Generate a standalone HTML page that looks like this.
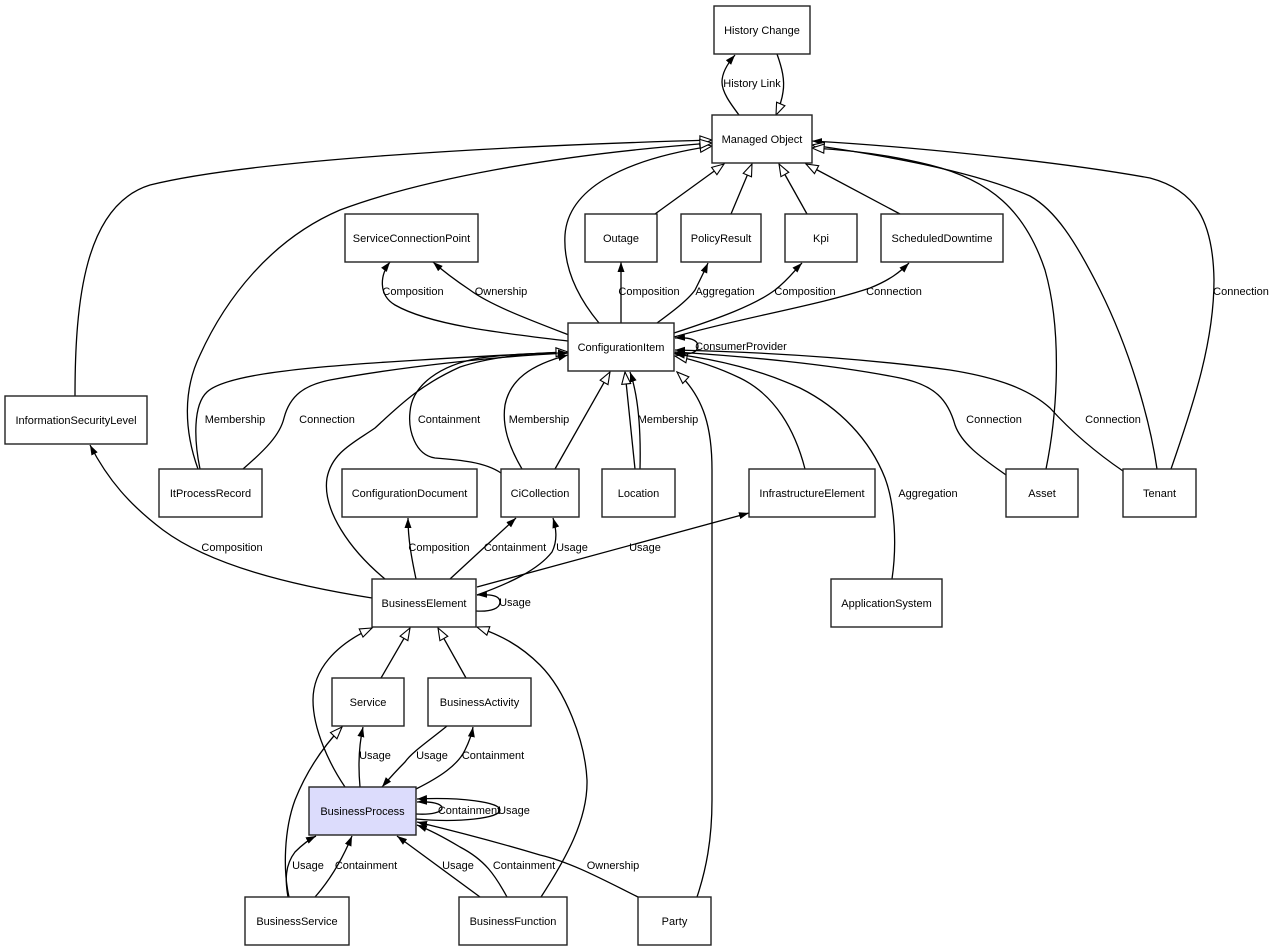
<!DOCTYPE html>
<html><head><meta charset="utf-8"><style>
html,body{margin:0;padding:0;background:#fff;}
svg{display:block;}
text{font-family:"Liberation Sans",Arial,sans-serif;font-size:11px;fill:#000;}
.n{fill:#fff;stroke:#222;stroke-width:1.4;}
.e{fill:none;stroke:#000;stroke-width:1.3;}
</style></head><body>
<svg width="1275" height="951" viewBox="0 0 1275 951" xmlns="http://www.w3.org/2000/svg">
<defs>
<marker id="a" viewBox="0 0 10 8" refX="10" refY="4" markerWidth="10" markerHeight="8" orient="auto" markerUnits="userSpaceOnUse"><path d="M0,0.5 L10,4 L0,7.5 z" fill="#000"/></marker>
<marker id="h" viewBox="-1 -1 14 12" refX="12" refY="5" markerWidth="14" markerHeight="12" orient="auto" markerUnits="userSpaceOnUse" overflow="visible"><path d="M0,0.5 L12,5 L0,9.5 z" fill="#fff" stroke="#000" stroke-width="1.1"/></marker>
</defs>
<rect width="1275" height="951" fill="#fff"/>

<!-- edges -->
<g class="edges">
<!-- History -->
<path class="e" marker-end="url(#a)" d="M739,115 C730,103 722,92 722,82 C722,72 728,63 735,55"/>
<path class="e" marker-end="url(#h)" d="M777,54 C782,68 785,80 783,92 C782,100 779,108 776,115"/>
<!-- gen to MO bottom -->
<path class="e" marker-end="url(#h)" d="M655,214 L724,164"/>
<path class="e" marker-end="url(#h)" d="M731,214 L752,164"/>
<path class="e" marker-end="url(#h)" d="M807,214 L779,164"/>
<path class="e" marker-end="url(#h)" d="M900,214 L806,164"/>
<!-- CI -> MO -->
<path class="e" marker-end="url(#h)" d="M599,323 C580,300 563,270 565,235 C568,190 620,160 712,146"/>
<!-- ISL -> MO -->
<path class="e" marker-end="url(#h)" d="M75,396 C75,300 85,205 150,185 C250,160 500,146 712,140"/>
<!-- IPR -> MO -->
<path class="e" marker-end="url(#h)" d="M198,469 C184,430 183,390 200,355 C225,300 270,240 340,210 C420,180 550,155 712,143"/>
<!-- Tenant Connection -> MO -->
<path class="e" marker-end="url(#a)" d="M1171,469 C1195,400 1214,340 1214,280 C1213,220 1195,190 1150,178 C1050,160 900,146 812,141"/>
<!-- Tenant gen -> MO -->
<path class="e" marker-end="url(#h)" d="M1157,469 C1150,420 1130,350 1100,290 C1075,240 1055,210 1030,196 C970,170 880,155 812,145"/>
<!-- Asset gen -> MO -->
<path class="e" marker-end="url(#h)" d="M1046,469 C1058,410 1062,330 1045,270 C1025,210 990,180 930,165 C890,155 850,150 812,148"/>

<!-- CI outgoing -->
<path class="e" marker-end="url(#a)" d="M568,341 C500,333 430,325 395,305 C378,295 380,275 390,262"/>
<path class="e" marker-end="url(#a)" d="M569,335 C530,320 490,305 470,290 C455,280 442,270 433,262"/>
<path class="e" marker-end="url(#a)" d="M621,323 L621,262"/>
<path class="e" marker-end="url(#a)" d="M657,323 C672,312 688,300 695,290 C700,280 704,272 708,263"/>
<path class="e" marker-end="url(#a)" d="M674,333 C720,318 755,305 775,290 C788,280 795,270 802,263"/>
<path class="e" marker-end="url(#a)" d="M674,337 C740,318 820,305 870,288 C890,280 900,272 909,263"/>
<path class="e" marker-end="url(#a)" d="M674,353 C690,356 698,352 698,346 C698,340 690,337 675,338"/>

<!-- CI incoming -->
<path class="e" marker-end="url(#a)" d="M200,469 C194,440 193,405 207,392 C225,375 300,367 420,360 C480,356 530,354 568,352"/>
<path class="e" marker-end="url(#a)" d="M243,469 C265,450 280,435 284,418 C290,395 305,385 330,380 C400,367 500,356 568,353"/>
<path class="e" marker-end="url(#h)" d="M385,579 C350,550 322,510 327,478 C332,452 355,442 375,428 C400,405 420,385 460,367 C490,357 530,353 568,352"/>
<path class="e" marker-end="url(#a)" d="M501,473 C485,462 460,460 435,458 C415,455 408,430 410,412 C412,385 440,365 480,358 C510,354 540,353 568,353"/>
<path class="e" marker-end="url(#a)" d="M522,469 C508,445 502,425 505,405 C510,380 530,365 568,355"/>
<path class="e" marker-end="url(#h)" d="M555,469 L610,372"/>
<path class="e" marker-end="url(#h)" d="M635,469 L625,372"/>
<path class="e" marker-end="url(#a)" d="M640,469 C641,430 638,395 630,372"/>
<path class="e" marker-end="url(#h)" d="M697,897 C706,870 712,840 712,800 L712,470 C712,430 705,398 677,372"/>
<path class="e" marker-end="url(#h)" d="M805,469 C795,430 775,395 740,378 C715,366 695,360 675,356"/>
<path class="e" marker-end="url(#a)" d="M892,579 C897,545 895,505 885,478 C870,440 840,408 800,388 C760,370 720,360 675,354"/>
<path class="e" marker-end="url(#a)" d="M1006,475 C985,460 962,445 955,425 C948,400 935,385 900,378 C830,364 740,356 675,352"/>
<path class="e" marker-end="url(#a)" d="M1123,471 C1095,452 1070,430 1050,408 C1030,390 1000,378 950,370 C860,358 760,352 675,350"/>

<!-- BE outgoing -->
<path class="e" marker-end="url(#a)" d="M372,598 C290,585 210,565 163,530 C130,505 108,480 90,445"/>
<path class="e" marker-end="url(#a)" d="M416,579 C412,560 408,540 408,518"/>
<path class="e" marker-end="url(#a)" d="M450,579 L516,518"/>
<path class="e" marker-end="url(#a)" d="M477,595 C510,583 538,570 552,552 C558,540 556,528 553,518"/>
<path class="e" marker-end="url(#a)" d="M477,587 L749,513"/>
<path class="e" marker-end="url(#a)" d="M476,611 C492,612 500,608 500,602 C500,596 492,594 477,595"/>

<!-- gen to BE -->
<path class="e" marker-end="url(#h)" d="M345,787 C330,765 313,730 313,700 C313,670 335,645 372,628"/>
<path class="e" marker-end="url(#h)" d="M381,678 L410,628"/>
<path class="e" marker-end="url(#h)" d="M466,678 L438,628"/>
<path class="e" marker-end="url(#h)" d="M541,897 C565,860 588,820 587,780 C585,740 565,690 540,665 C520,645 500,635 477,627"/>

<!-- Service / BA / BP -->
<path class="e" marker-end="url(#h)" d="M289,897 C283,870 284,830 295,800 C305,775 320,750 342,727"/>
<path class="e" marker-end="url(#a)" d="M360,787 C358,765 359,745 363,727"/>
<path class="e" marker-end="url(#a)" d="M447,726 C430,740 412,752 405,762 C395,772 388,780 382,787"/>
<path class="e" marker-end="url(#a)" d="M416,789 C440,777 458,765 465,750 C470,740 472,733 473,727"/>
<path class="e" marker-end="url(#a)" d="M416,814 C432,815 442,812 442,808 C442,804 432,801 417,802"/>
<path class="e" marker-end="url(#a)" d="M416,819 C460,823 500,818 500,810 C500,802 460,797 417,799"/>
<path class="e" marker-end="url(#a)" d="M288,897 C285,880 285,865 295,852 C302,845 308,840 316,836"/>
<path class="e" marker-end="url(#a)" d="M315,897 C330,880 342,860 352,836"/>
<path class="e" marker-end="url(#a)" d="M480,897 L397,836"/>
<path class="e" marker-end="url(#a)" d="M507,897 C495,875 485,860 460,847 C445,838 430,830 417,825"/>
<path class="e" marker-end="url(#a)" d="M638,897 C600,878 570,862 540,855 C490,840 450,830 417,822"/>
</g>

<!-- nodes -->
<g>
<rect class="n" x="714" y="6" width="96" height="48"/>
<rect class="n" x="712" y="115" width="100" height="48"/>
<rect class="n" x="585" y="214" width="72" height="48"/>
<rect class="n" x="681" y="214" width="80" height="48"/>
<rect class="n" x="785" y="214" width="72" height="48"/>
<rect class="n" x="881" y="214" width="122" height="48"/>
<rect class="n" x="345" y="214" width="133" height="48"/>
<rect class="n" x="568" y="323" width="106" height="48"/>
<rect class="n" x="5" y="396" width="142" height="48"/>
<rect class="n" x="159" y="469" width="103" height="48"/>
<rect class="n" x="342" y="469" width="135" height="48"/>
<rect class="n" x="501" y="469" width="78" height="48"/>
<rect class="n" x="602" y="469" width="73" height="48"/>
<rect class="n" x="749" y="469" width="126" height="48"/>
<rect class="n" x="1006" y="469" width="72" height="48"/>
<rect class="n" x="1123" y="469" width="73" height="48"/>
<rect class="n" x="372" y="579" width="104" height="48"/>
<rect class="n" x="831" y="579" width="111" height="48"/>
<rect class="n" x="332" y="678" width="72" height="48"/>
<rect class="n" x="428" y="678" width="103" height="48"/>
<rect class="n" x="309" y="787" width="107" height="48" style="fill:#dcdcfc"/>
<rect class="n" x="245" y="897" width="104" height="48"/>
<rect class="n" x="459" y="897" width="108" height="48"/>
<rect class="n" x="638" y="897" width="73" height="48"/>
</g>

<g text-anchor="middle">
<text x="762" y="34">History Change</text>
<text x="762" y="143">Managed Object</text>
<text x="621" y="242">Outage</text>
<text x="721" y="242">PolicyResult</text>
<text x="821" y="242">Kpi</text>
<text x="942" y="242">ScheduledDowntime</text>
<text x="411.5" y="242">ServiceConnectionPoint</text>
<text x="621" y="351">ConfigurationItem</text>
<text x="76" y="424">InformationSecurityLevel</text>
<text x="210.5" y="497">ItProcessRecord</text>
<text x="409.5" y="497">ConfigurationDocument</text>
<text x="540" y="497">CiCollection</text>
<text x="638.5" y="497">Location</text>
<text x="812" y="497">InfrastructureElement</text>
<text x="1042" y="497">Asset</text>
<text x="1159.5" y="497">Tenant</text>
<text x="424" y="607">BusinessElement</text>
<text x="886.5" y="607">ApplicationSystem</text>
<text x="368" y="706">Service</text>
<text x="479.5" y="706">BusinessActivity</text>
<text x="362.5" y="815">BusinessProcess</text>
<text x="297" y="925">BusinessService</text>
<text x="513" y="925">BusinessFunction</text>
<text x="674.5" y="925">Party</text>
</g>

<!-- edge labels -->
<g text-anchor="middle">
<text x="752" y="87">History Link</text>
<text x="413" y="295">Composition</text>
<text x="501" y="295">Ownership</text>
<text x="649" y="295">Composition</text>
<text x="725" y="295">Aggregation</text>
<text x="805" y="295">Composition</text>
<text x="894" y="295">Connection</text>
<text x="1241" y="295">Connection</text>
<text x="741" y="350">ConsumerProvider</text>
<text x="235" y="423">Membership</text>
<text x="327" y="423">Connection</text>
<text x="449" y="423">Containment</text>
<text x="539" y="423">Membership</text>
<text x="668" y="423">Membership</text>
<text x="994" y="423">Connection</text>
<text x="1113" y="423">Connection</text>
<text x="928" y="497">Aggregation</text>
<text x="232" y="551">Composition</text>
<text x="439" y="551">Composition</text>
<text x="515" y="551">Containment</text>
<text x="572" y="551">Usage</text>
<text x="645" y="551">Usage</text>
<text x="515" y="606">Usage</text>
<text x="375" y="759">Usage</text>
<text x="432" y="759">Usage</text>
<text x="493" y="759">Containment</text>
<text x="469" y="814">Containment</text>
<text x="514" y="814">Usage</text>
<text x="308" y="869">Usage</text>
<text x="366" y="869">Containment</text>
<text x="458" y="869">Usage</text>
<text x="524" y="869">Containment</text>
<text x="613" y="869">Ownership</text>
</g>
</svg>
</body></html>
